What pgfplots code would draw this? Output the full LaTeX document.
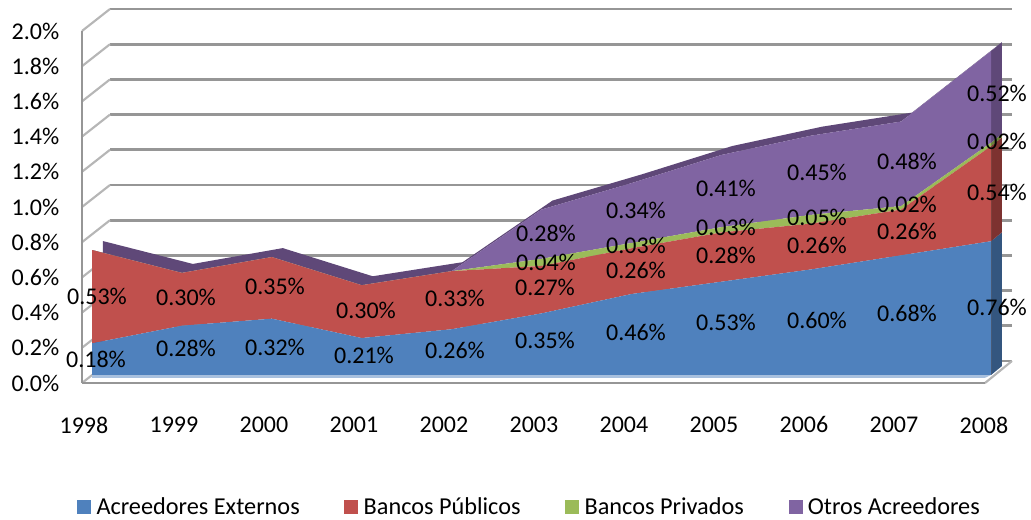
\documentclass[border=0pt]{standalone}
\usepackage{pgfplots}
\usepackage{fontspec}
\setmainfont{Carlito}
\pgfplotsset{compat=1.18}
\definecolor{cblue}{HTML}{4F81BD}
\definecolor{cred}{HTML}{C0504D}
\definecolor{cgreen}{HTML}{9BBB59}
\definecolor{cpurple}{HTML}{8064A2}
\definecolor{dblue}{HTML}{34567F}
\definecolor{dred}{HTML}{7D3230}
\definecolor{dgreen}{HTML}{6B8239}
\definecolor{dpurple}{HTML}{5F4878}
\definecolor{lblue}{HTML}{A8C0DE}
\definecolor{gridc}{HTML}{969696}
\pgfplotstableread{
yr  ext  pub  pri  otr
1998 0.18 0.53 0.00 0.00
1999 0.28 0.30 0.00 0.00
2000 0.32 0.35 0.00 0.00
2001 0.21 0.30 0.00 0.00
2002 0.26 0.33 0.00 0.00
2003 0.35 0.27 0.04 0.28
2004 0.46 0.26 0.03 0.34
2005 0.53 0.28 0.03 0.41
2006 0.60 0.26 0.05 0.45
2007 0.68 0.26 0.02 0.48
2008 0.76 0.54 0.02 0.52
}\datatable
\newcommand{\lab}[3]{\node[font=\fontsize{18}{20}\selectfont,inner sep=0pt,text=black] at ({(#1)*0.75pt},{(520-(#2))*0.75pt}) {#3};}
\newcommand{\px}[2]{({(#1)*0.75pt},{(520-(#2))*0.75pt})}
\begin{document}
\begin{tikzpicture}
\path[use as bounding box] (0,0) rectangle (773.25pt,390pt);
% back wall
\begin{axis}[at={(82.5pt,119.25pt)},anchor=south west,scale only axis,width=676.5pt,height=264pt,
  xmin=0,xmax=1,ymin=0,ymax=2,axis lines=none,clip=false]
\pgfplotsinvokeforeach{0,0.2,0.4,0.6,0.8,1.0,1.2,1.4,1.6,1.8,2.0}{
  \addplot[gridc,line width=2pt,forget plot] coordinates {(0,#1)(1,#1)};
}
\end{axis}
% side wall ticks
\foreach \k in {0,...,10}{
  \draw[gridc!70,line width=1.6pt] \px{82}{383-35.2*\k} -- \px{110}{361-35.2*\k};
}
\draw[gridc!70,line width=1.6pt] \px{985}{383} -- \px{1012}{361};
% front frame with tick labels
\begin{axis}[at={(61.5pt,102.75pt)},anchor=south west,scale only axis,width=677.25pt,height=264pt,
  xmin=1997.978,xmax=2008.011,ymin=0,ymax=2,
  axis x line*=bottom,axis y line*=left,
  axis line style={gridc,line width=2.2pt,-},
  xtick={1998,1999,...,2008},ytick={0,0.2,...,2},
  major tick length=0pt,
  tick label style={font=\fontsize{18}{20}\selectfont,text=black},
  /pgf/number format/assume math mode=true,
  xticklabel style={/pgf/number format/1000 sep={},yshift=-21.75pt},
  yticklabel={\pgfmathprintnumber[fixed,fixed zerofill,precision=1]{\tick}\%},
  yticklabel style={xshift=-13.5pt}]
\addplot[draw=none,forget plot] coordinates {(1998,0)(2008,2)};
\end{axis}
% depth faces
\begin{axis}[at={(69pt,108.75pt)},anchor=south west,scale only axis,width=674.25pt,height=264pt,
  xmin=1998,xmax=2008,ymin=0,ymax=2,axis lines=none,clip=false]
\addplot[fill=dpurple,draw=none] coordinates {(1998,0.71)(1999,0.58)(2000,0.67)(2001,0.51)(2002,0.59)(2003,0.94)(2004,1.09)(2005,1.25)(2006,1.36)(2007,1.44)(2008,1.84)
 (2008.122,1.891)(2007.122,1.491)(2006.122,1.411)(2005.122,1.301)(2004.122,1.141)(2003.122,0.991)(2002.122,0.641)(2001.122,0.561)(2000.122,0.721)(1999.122,0.631)(1998.122,0.761)} \closedcycle;
\addplot[fill=dblue,draw=none] coordinates {(2008,0)(2008.122,0.051)(2008.122,0.811)(2008,0.76)} \closedcycle;
\addplot[fill=dred,draw=none] coordinates {(2008,0.76)(2008.122,0.811)(2008.122,1.351)(2008,1.30)} \closedcycle;
\addplot[fill=dgreen,draw=none] coordinates {(2008,1.30)(2008.122,1.351)(2008.122,1.371)(2008,1.32)} \closedcycle;
\addplot[fill=dpurple,draw=none] coordinates {(2008,1.32)(2008.122,1.371)(2008.122,1.891)(2008,1.84)} \closedcycle;
\addplot[fill=lblue,draw=none] coordinates {(1998,0)(2008,0)(2007.93,-0.017)(1998,-0.017)} \closedcycle;
\end{axis}
% stacked front faces
\begin{axis}[at={(69pt,108.75pt)},anchor=south west,scale only axis,width=674.25pt,height=264pt,
  xmin=1998,xmax=2008,ymin=0,ymax=2,axis lines=none,clip=false,
  stack plots=y,area style,
  legend style={at={(0.487,-0.375)},anchor=center,draw=none,fill=none,legend columns=4,
    font=\fontsize{18.2}{20}\selectfont,text=black,
    /tikz/every even column/.append style={column sep=31.5pt},
    /tikz/every odd column/.append style={column sep=2pt},inner sep=0pt},
  legend image code/.code={\fill[#1] (0pt,-5.25pt) rectangle (10.5pt,5.25pt);}]
\addplot[fill=cblue,draw=none] table[x=yr,y=ext] {\datatable} \closedcycle;
\addlegendentry{Acreedores Externos}
\addplot[fill=cred,draw=none] table[x=yr,y=pub] {\datatable} \closedcycle;
\addlegendentry{Bancos Públicos}
\addplot[fill=cgreen,draw=none] table[x=yr,y=pri] {\datatable} \closedcycle;
\addlegendentry{Bancos Privados}
\addplot[fill=cpurple,draw=none] table[x=yr,y=otr] {\datatable} \closedcycle;
\addlegendentry{Otros Acreedores}
\end{axis}
% data labels
\lab{96}{359}{0.18\%}\lab{97}{296}{0.53\%}
\lab{186}{348}{0.28\%}\lab{186}{297}{0.30\%}
\lab{275}{347}{0.32\%}\lab{275}{286}{0.35\%}
\lab{364}{355}{0.21\%}\lab{366}{310}{0.30\%}
\lab{455}{350}{0.26\%}\lab{455}{298}{0.33\%}
\lab{545}{340}{0.35\%}\lab{545}{287}{0.27\%}\lab{546}{262}{0.04\%}\lab{546}{233}{0.28\%}
\lab{636}{332}{0.46\%}\lab{636}{270}{0.26\%}\lab{636}{245}{0.03\%}\lab{636}{210}{0.34\%}
\lab{726}{322}{0.53\%}\lab{726}{255}{0.28\%}\lab{726}{227}{0.03\%}\lab{726}{188}{0.41\%}
\lab{817}{320}{0.60\%}\lab{817}{245}{0.26\%}\lab{817}{217}{0.05\%}\lab{817}{172}{0.45\%}
\lab{907}{313}{0.68\%}\lab{907}{231}{0.26\%}\lab{907}{204}{0.02\%}\lab{907}{161}{0.48\%}
\lab{997}{307}{0.76\%}\lab{997}{192}{0.54\%}\lab{997}{141}{0.02\%}\lab{997}{93}{0.52\%}
\end{tikzpicture}
\end{document}
